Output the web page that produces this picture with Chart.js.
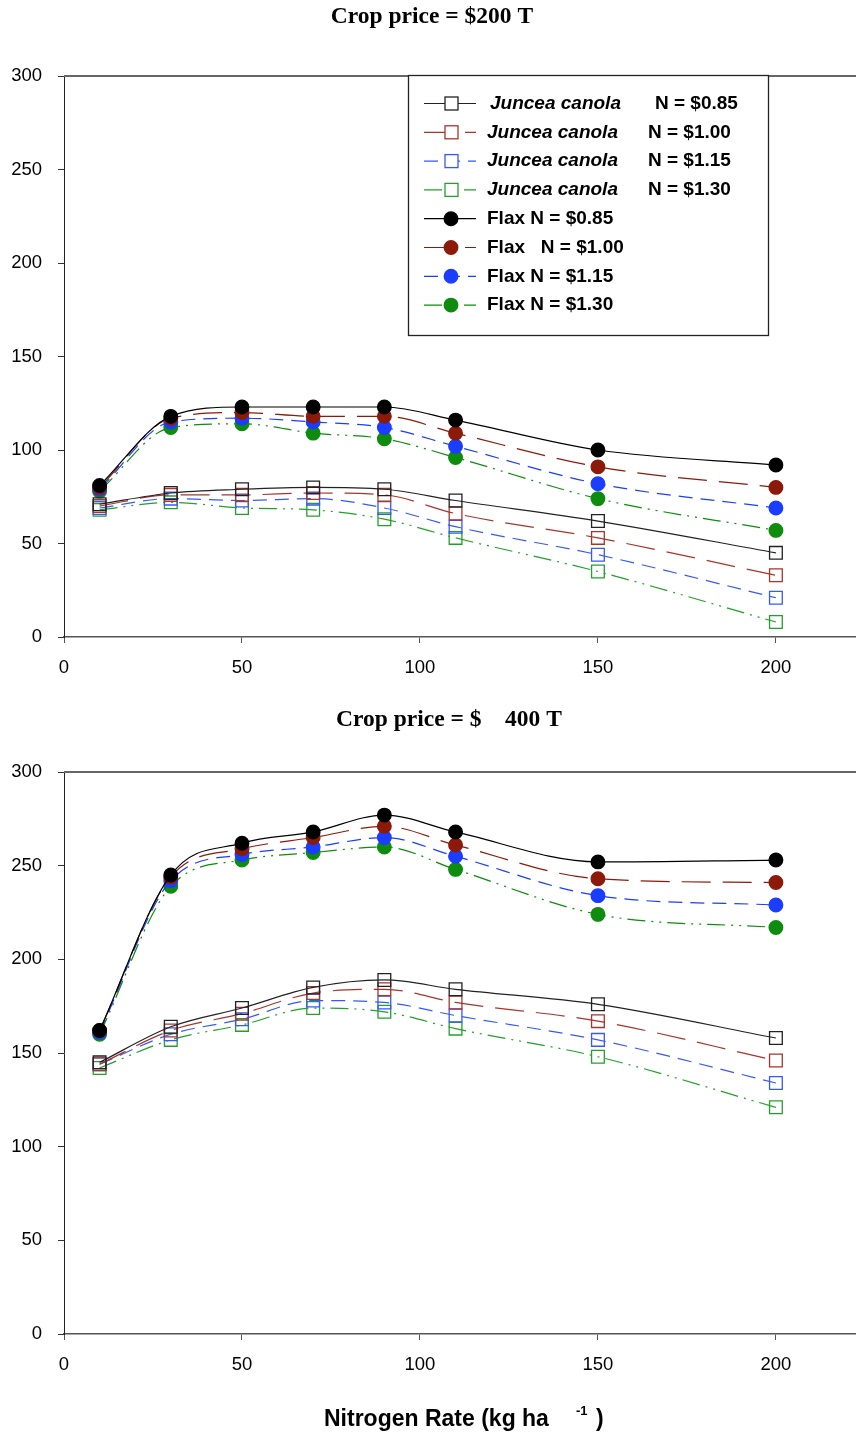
<!DOCTYPE html>
<html lang="en">
<head>
<meta charset="UTF-8">
<title>Net return vs nitrogen rate</title>
<script src="https://cdn.jsdelivr.net/npm/chart.js"></script>
<style>
  html, body { margin: 0; padding: 0; background: #fff; }
  canvas { display: block; }
</style>
</head>
<body>
<canvas id="top" width="856" height="700"></canvas>
<canvas id="bottom" width="856" height="737"></canvas>
<script>
// nitrogen rates (kg/ha)
const nRates = [10, 30, 50, 70, 90, 110, 150, 200];

// crop price $200/T
const juncea200_085 = [71, 77, 79, 80, 79, 73, 62, 45];
const juncea200_100 = [70, 76, 76, 77, 76, 66, 53, 33];
const juncea200_115 = [69, 74, 73, 74, 69, 59, 44, 21];
const juncea200_130 = [68, 72, 69, 68, 63, 53, 35, 8];
const flax200_085 = [81, 118, 123, 123, 123, 116, 100, 92];
const flax200_100 = [80, 117, 120, 118, 118, 109, 91, 80];
const flax200_115 = [79, 115, 117, 115, 112, 102, 82, 69];
const flax200_130 = [78, 112, 114, 109, 106, 96, 74, 57];

// crop price $400/T
const juncea400_085 = [145, 164, 174, 185, 189, 184, 176, 158];
const juncea400_100 = [144, 162, 171, 182, 184, 177, 167, 146];
const juncea400_115 = [144, 160, 168, 178, 177, 170, 157, 134];
const juncea400_130 = [142, 157, 165, 174, 172, 163, 148, 121];
const flax400_085 = [162, 245, 262, 268, 277, 268, 252, 253];
const flax400_100 = [162, 244, 259, 265, 271, 261, 243, 241];
const flax400_115 = [161, 242, 256, 260, 265, 255, 234, 229];
const flax400_130 = [160, 239, 253, 257, 260, 248, 224, 217];

const xTicks = [0, 50, 100, 150, 200];
const yTicks = [0, 50, 100, 150, 200, 250, 300];

const legendNames = ['Juncea canola', 'Juncea canola', 'Juncea canola', 'Juncea canola',
                     'Flax N = $0.85', 'Flax   N = $1.00', 'Flax N = $1.15', 'Flax N = $1.30'];
const legendPrices = ['N = $0.85', 'N = $1.00', 'N = $1.15', 'N = $1.30'];

const sansFamily = '"Liberation Sans", Arial, sans-serif';
const serifFamily = '"Liberation Serif", "Times New Roman", serif';

const lineColors = ['#000000', '#8c1a0a', '#1a3dff', '#0d8c0d'];
const squareColors = ['#222222', '#a8352a', '#3558ff', '#23a02c'];
const dashes = [[], [29, 12], [14, 8], [18, 6, 2, 6, 2, 6]];

function series(label, values, k, flax) {
  return {
    label: label,
    data: nRates.map((x, i) => ({ x: x, y: values[i] })),
    borderColor: flax ? lineColors[k] : squareColors[k],
    backgroundColor: flax ? lineColors[k] : 'rgba(0,0,0,0)',
    pointBorderColor: flax ? lineColors[k] : squareColors[k],
    pointBackgroundColor: flax ? lineColors[k] : 'rgba(0,0,0,0)',
    pointStyle: flax ? 'circle' : 'rect',
    pointRadius: flax ? 6.8 : 9,
    pointBorderWidth: 1.3,
    borderWidth: 1.2,
    borderDash: dashes[k],
    cubicInterpolationMode: 'monotone',
    fill: false
  };
}

function datasets(j, f) {
  return [
    series('Juncea canola N = $0.85', j[0], 0, false),
    series('Juncea canola N = $1.00', j[1], 1, false),
    series('Juncea canola N = $1.15', j[2], 2, false),
    series('Juncea canola N = $1.30', j[3], 3, false),
    series('Flax N = $0.85', f[0], 0, true),
    series('Flax N = $1.00', f[1], 1, true),
    series('Flax N = $1.15', f[2], 2, true),
    series('Flax N = $1.30', f[3], 3, true)
  ];
}

// title, top frame line, x title
const decor = {
  id: 'decor',
  afterDraw(chart, args, opts) {
    const ctx = chart.ctx, a = chart.chartArea;
    ctx.save();
    ctx.strokeStyle = '#666';
    ctx.lineWidth = 2;
    ctx.beginPath();
    ctx.moveTo(a.left, a.top);
    ctx.lineTo(chart.width, a.top);
    ctx.stroke();

    ctx.fillStyle = '#000';
    ctx.font = 'bold 23.5px ' + serifFamily;
    ctx.textAlign = 'center';
    ctx.textBaseline = 'middle';
    ctx.fillText(opts.title, opts.titleX, opts.titleY);

    if (opts.xTitle) {
      ctx.textAlign = 'left';
      ctx.textBaseline = 'alphabetic';
      ctx.font = 'bold 23px ' + sansFamily;
      ctx.fillText('Nitrogen Rate (kg ha', 324, 726);
      ctx.font = 'bold 13px ' + sansFamily;
      ctx.fillText('-1', 576, 715);
      ctx.font = 'bold 23px ' + sansFamily;
      ctx.fillText(')', 596, 726);
    }
    ctx.restore();
  }
};

// boxed legend in the upper chart
const boxLegend = {
  id: 'boxLegend',
  afterDraw(chart) {
    const ctx = chart.ctx;
    const ds = chart.data.datasets;
    ctx.save();
    ctx.fillStyle = '#fff';
    ctx.fillRect(408, 75, 360, 260);
    ctx.strokeStyle = '#222';
    ctx.lineWidth = 1.3;
    ctx.strokeRect(408.5, 75.5, 360, 260);

    for (let i = 0; i < ds.length; i++) {
      const d = ds[i];
      const y = 103.5 + i * 28.8;
      ctx.strokeStyle = d.borderColor;
      ctx.lineWidth = d.borderWidth;
      ctx.setLineDash(d.borderDash);
      ctx.beginPath();
      ctx.moveTo(424, y);
      ctx.lineTo(476, y);
      ctx.stroke();
      ctx.setLineDash([]);
      ctx.lineWidth = d.pointBorderWidth;
      ctx.strokeStyle = d.pointBorderColor;
      ctx.fillStyle = d.pointBackgroundColor;
      if (d.pointStyle === 'circle') {
        ctx.beginPath();
        ctx.arc(451, y, 6.8, 0, Math.PI * 2);
        ctx.fill();
        ctx.stroke();
      } else {
        ctx.fillStyle = '#fff';
        ctx.fillRect(445, y - 6.5, 13, 13);
        ctx.strokeRect(445, y - 6.5, 13, 13);
      }

      ctx.fillStyle = '#000';
      ctx.textBaseline = 'middle';
      ctx.textAlign = 'left';
      if (i < 4) {
        ctx.font = 'italic bold 19px ' + sansFamily;
        ctx.fillText(legendNames[i], i === 0 ? 490 : 487, y);
        ctx.font = 'bold 19px ' + sansFamily;
        ctx.fillText(legendPrices[i], i === 0 ? 655 : 648, y);
      } else {
        ctx.font = 'bold 19px ' + sansFamily;
        ctx.fillText(legendNames[i], 487, y);
      }
    }
    ctx.restore();
  }
};

function makeOptions(padTop, xAxisHeight, decorOpts) {
  const tickFont = { family: sansFamily, size: 18.5 };
  return {
    responsive: false,
    animation: false,
    layout: { autoPadding: false, padding: { top: padTop, left: 0, right: 0, bottom: 0 } },
    plugins: {
      legend: { display: false },
      tooltip: { enabled: false },
      decor: decorOpts
    },
    scales: {
      x: {
        type: 'linear',
        min: 0,
        max: 222.5,
        afterFit: s => { s.height = xAxisHeight; s.paddingRight = 0; s.paddingLeft = 0; },
        afterBuildTicks: s => { s.ticks = xTicks.map(v => ({ value: v })); },
        border: { color: '#555', width: 1.5 },
        grid: { drawOnChartArea: false, tickLength: 6, color: '#555' },
        ticks: { padding: 14, color: '#000', font: tickFont, maxRotation: 0 }
      },
      y: {
        min: 0,
        max: 300,
        afterFit: s => { s.width = 64; },
        afterBuildTicks: s => { s.ticks = yTicks.map(v => ({ value: v })); },
        border: { color: '#222', width: 1 },
        grid: { drawOnChartArea: false, tickLength: 6, color: '#333' },
        ticks: { padding: 16, color: '#000', font: tickFont }
      }
    }
  };
}

new Chart(document.getElementById('top'), {
  type: 'line',
  data: {
    datasets: datasets(
      [juncea200_085, juncea200_100, juncea200_115, juncea200_130],
      [flax200_085, flax200_100, flax200_115, flax200_130])
  },
  options: makeOptions(76, 63, { title: 'Crop price = $200 T', titleX: 432, titleY: 17 }),
  plugins: [decor, boxLegend]
});

new Chart(document.getElementById('bottom'), {
  type: 'line',
  data: {
    datasets: datasets(
      [juncea400_085, juncea400_100, juncea400_115, juncea400_130],
      [flax400_085, flax400_100, flax400_115, flax400_130])
  },
  options: makeOptions(72, 103, { title: 'Crop price = $    400 T', titleX: 449, titleY: 20, xTitle: true }),
  plugins: [decor]
});
</script>
</body>
</html>
